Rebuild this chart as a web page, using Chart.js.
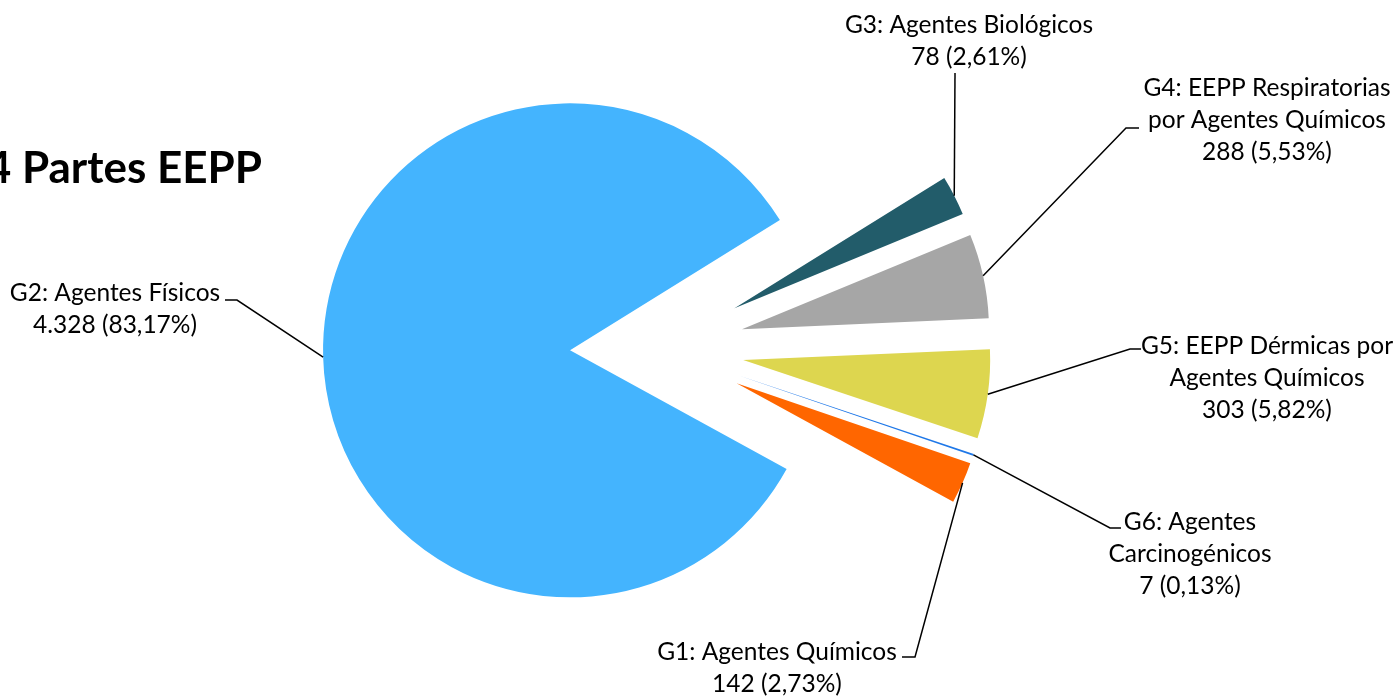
<!DOCTYPE html>
<html>
<head>
<meta charset="utf-8">
<script src="https://cdn.jsdelivr.net/npm/chart.js@4.4.1/dist/chart.umd.min.js"></script>
<style>
  body { margin: 0; background: #ffffff; }
  canvas { display: block; }
</style>
</head>
<body>
<canvas id="pieChart" width="1397" height="697"></canvas>
<script>
// Data (slices sized by the printed percentages)
const categories = [
    ["G1: Agentes Químicos"],
    ["G2: Agentes Físicos"],
    ["G3: Agentes Biológicos"],
    ["G4: EEPP Respiratorias", "por Agentes Químicos"],
    ["G5: EEPP Dérmicas por", "Agentes Químicos"],
    ["G6: Agentes", "Carcinogénicos"]
];
const counts = [142, 4328, 78, 288, 303, 7];
const percents = [2.73, 83.17, 2.61, 5.53, 5.82, 0.13];
const sliceColors = ["#ff6600", "#44b4fe", "#225c6a", "#a6a6a6", "#ddd64f", "#1f78e8"];
const titleText = "4 Partes EEPP";

// Layout of the data labels (text centre, first line y, leader elbow and end)
const labelLayout = [
    { x: 777, y: 652, elbow: [915, 657], end: [902, 657] },
    { x: 115, y: 293, elbow: [237, 300], end: [225, 300] },
    { x: 969, y: 25, elbow: [955, 73], end: [955, 73] },
    { x: 1267, y: 88, elbow: [1126, 128], end: [1139, 128] },
    { x: 1267, y: 346, elbow: [1130, 349], end: [1141, 349] },
    { x: 1190, y: 522, elbow: [1110, 528], end: [1121, 528] }
];
const EXPLODE = 87;
const LINE_GAP = 32;
const LABEL_FONT = "24.5px Lato";

function formatCount(n) {
    return String(n).replace(/\B(?=(\d{3})+(?!\d))/g, ".");
}

function formatPct(p) {
    return p.toFixed(2).replace(".", ",") + "%";
}

// Push every slice out from the centre along its mid angle
const explodePlugin = {
    id: "explode",
    afterDatasetUpdate(chart, args) {
        args.meta.data.forEach(arc => {
            const mid = (arc.startAngle + arc.endAngle) / 2;
            arc.x += EXPLODE * Math.cos(mid);
            arc.y += EXPLODE * Math.sin(mid);
        });
    }
};

// Title, data labels and leader lines
const labelPlugin = {
    id: "pieLabels",
    afterDraw(chart) {
        const ctx = chart.ctx;
        const arcs = chart.getDatasetMeta(0).data;
        ctx.save();

        ctx.fillStyle = "#000000";
        ctx.font = "bold 44px Lato";
        ctx.textAlign = "right";
        ctx.textBaseline = "alphabetic";
        ctx.fillText(titleText, 262, 183);

        arcs.forEach((arc, i) => {
            const box = labelLayout[i];
            const mid = (arc.startAngle + arc.endAngle) / 2;
            const sx = arc.x + arc.outerRadius * Math.cos(mid);
            const sy = arc.y + arc.outerRadius * Math.sin(mid);

            ctx.strokeStyle = "#000000";
            ctx.lineWidth = 1.5;
            ctx.beginPath();
            ctx.moveTo(sx, sy);
            ctx.lineTo(box.elbow[0], box.elbow[1]);
            ctx.lineTo(box.end[0], box.end[1]);
            ctx.stroke();

            const lines = categories[i].concat([formatCount(counts[i]) + " (" + formatPct(percents[i]) + ")"]);
            ctx.font = LABEL_FONT;
            ctx.textAlign = "center";
            ctx.textBaseline = "middle";
            lines.forEach((line, j) => {
                ctx.fillText(line, box.x, box.y + j * LINE_GAP);
            });
        });
        ctx.restore();
    }
};

const ctx = document.getElementById("pieChart").getContext("2d");
const chartInstance = new Chart(ctx, {
    type: "pie",
    data: {
        labels: categories,
        datasets: [{
            data: percents,
            backgroundColor: sliceColors,
            borderWidth: 0
        }]
    },
    options: {
        responsive: false,
        animation: false,
        events: [],
        rotation: 108.9,
        radius: 247,
        layout: { padding: { left: 0, right: 83, top: 0, bottom: 1 } },
        plugins: {
            legend: { display: false },
            tooltip: { enabled: false }
        }
    },
    plugins: [explodePlugin, labelPlugin]
});
</script>
</body>
</html>
